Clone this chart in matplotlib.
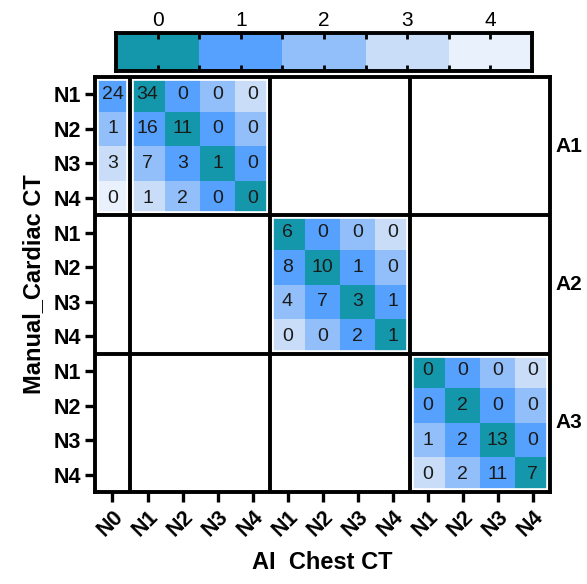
import numpy as np
import matplotlib
matplotlib.use("Agg")
import matplotlib.pyplot as plt
from matplotlib.colors import ListedColormap, BoundaryNorm

plt.rcParams['font.family'] = ['Liberation Sans', 'DejaVu Sans']

# DATA
col_labels = ["N0", "N1", "N2", "N3", "N4", "N1", "N2", "N3", "N4", "N1", "N2", "N3", "N4"]
row_labels = ["N1", "N2", "N3", "N4"] * 3
group_labels = ["A1", "A2", "A3"]
# stage index of each column / row (N0 = 0)
col_stage = [0, 1, 2, 3, 4, 1, 2, 3, 4, 1, 2, 3, 4]
row_stage = [1, 2, 3, 4] * 3

a1_counts = [[24, 34, 0, 0, 0],
             [1, 16, 11, 0, 0],
             [3, 7, 3, 1, 0],
             [0, 1, 2, 0, 0]]
a2_counts = [[6, 0, 0, 0],
             [8, 10, 1, 0],
             [4, 7, 3, 1],
             [0, 0, 2, 1]]
a3_counts = [[0, 0, 0, 0],
             [0, 2, 0, 0],
             [1, 2, 13, 0],
             [0, 2, 11, 7]]

level_ticks = [0, 1, 2, 3, 4]
level_colors = ["#1597ab", "#55a1fd", "#92bff9", "#c9ddf8", "#e9f1fd"]

# build full matrix (NaN = empty cell)
n_rows, n_cols = 12, 13
counts = np.full((n_rows, n_cols), np.nan)
counts[0:4, 0:5] = a1_counts
counts[4:8, 5:9] = a2_counts
counts[8:12, 9:13] = a3_counts

levels = np.full((n_rows, n_cols), np.nan)
for r in range(n_rows):
    for c in range(n_cols):
        if not np.isnan(counts[r, c]):
            levels[r, c] = abs(row_stage[r] - col_stage[c])

cmap = ListedColormap(level_colors)
norm = BoundaryNorm(np.arange(-0.5, 5.5, 1), cmap.N)

fig = plt.figure(figsize=(5.87, 5.84), dpi=100)
ax = fig.add_axes([95/587, 1 - 492/584, 455/587, 415/584])

ax.pcolormesh(np.arange(n_cols + 1), np.arange(n_rows + 1),
              np.ma.masked_invalid(levels), cmap=cmap, norm=norm)
ax.set_xlim(0, n_cols)
ax.set_ylim(n_rows, 0)

for r in range(n_rows):
    for c in range(n_cols):
        if not np.isnan(counts[r, c]):
            ax.text(c + 0.5, r + 0.5, f"{int(counts[r, c])}", ha='center', va='center',
                    fontsize=14, color='#1a1a1a')

# block separators (white gap + black line)
vlines = [1, 5, 9]
hlines = [4, 8]
for x in vlines:
    ax.axvline(x, color='white', lw=5.5, zorder=3)
    ax.axvline(x, color='black', lw=2.8, zorder=4)
for y in hlines:
    ax.axhline(y, color='white', lw=5.5, zorder=3)
    ax.axhline(y, color='black', lw=2.8, zorder=4)
for x in [0, n_cols]:
    ax.axvline(x, color='white', lw=5.5, zorder=3)
for y in [0, n_rows]:
    ax.axhline(y, color='white', lw=5.5, zorder=3)

for s in ax.spines.values():
    s.set_linewidth(2.8)
    s.set_zorder(5)

ax.set_xticks(np.arange(n_cols) + 0.5)
ax.set_xticklabels(col_labels, rotation=45, ha='right', rotation_mode='anchor',
                   fontsize=15.5, fontweight='bold')
ax.set_yticks(np.arange(n_rows) + 0.5)
ax.set_yticklabels(row_labels, fontsize=15.5, fontweight='bold')
ax.tick_params(axis='both', direction='out', length=7, width=2.4, pad=3)

ax.set_xlabel("AI  Chest CT", fontsize=17, fontweight='bold', labelpad=8)
ax.set_ylabel("Manual_Cardiac CT", fontsize=17, fontweight='bold', labelpad=6)

for i, g in enumerate(group_labels):
    ax.text(n_cols + 0.15, 4 * i + 2, g, ha='left', va='center',
            fontsize=15, fontweight='bold')

# colour legend bar
cax = fig.add_axes([116/587, 1 - 71/584, 416/587, 38/584])
cax.pcolormesh(np.arange(-0.5, 5.5, 1), [0, 1], np.array([level_ticks]),
               cmap=cmap, norm=norm)
cax.set_xlim(-0.5, 4.5)
cax.set_ylim(0, 1)
cax.set_yticks([])
cax.set_xticks(level_ticks)
cax.set_xticks(np.arange(0.5, 4.5, 1), minor=True)
cax.set_xticklabels([str(t) for t in level_ticks], fontsize=15)
cax.tick_params(axis='x', which='both', direction='in', top=True, bottom=True,
                labeltop=True, labelbottom=False, length=4, width=2, pad=2)
for s in cax.spines.values():
    s.set_linewidth(2.8)

fig.savefig("out.png", dpi=100)
